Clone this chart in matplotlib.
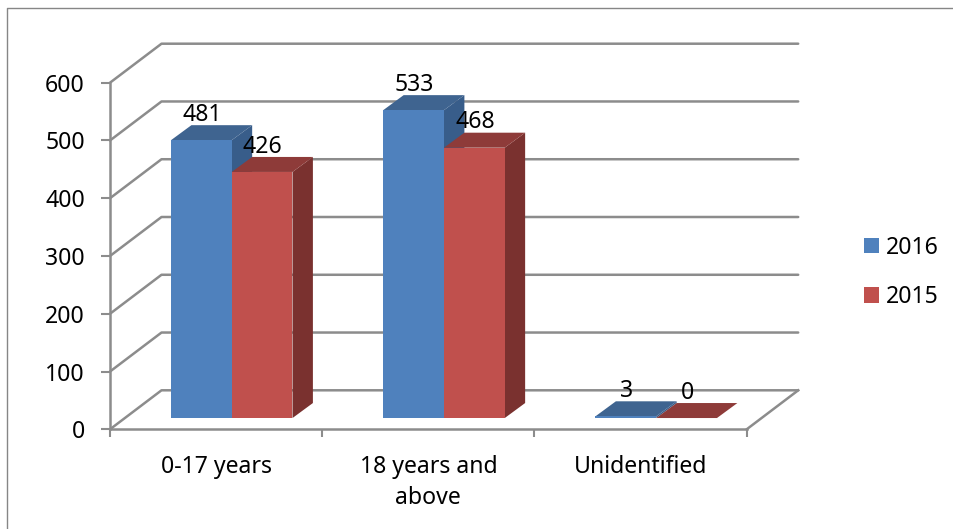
import matplotlib
matplotlib.use("Agg")
import matplotlib.pyplot as plt
from matplotlib.lines import Line2D
from matplotlib.patches import Patch, Polygon

categories = ["0-17 years", "18 years and\nabove", "Unidentified"]
series_names = ["2016", "2015"]
values_2016 = [481, 533, 3]
values_2015 = [426, 468, 0]
y_ticks = [0, 100, 200, 300, 400, 500, 600]

W, H = 954, 529
plt.rcParams["font.family"] = ["Noto Sans", "DejaVu Sans"]
FS = 16.6
GRID = "#8c8c8c"
fig = plt.figure(figsize=(W / 100, H / 100), dpi=100, facecolor="white")
ax = fig.add_axes([110 / W, 1 - 429.3 / H, 636.7 / W, 346.6 / H])
ax.set_xlim(0, 3)
ax.set_ylim(0, 600)
ax.patch.set_visible(False)

# outer frame (left and top edges only reach the picture edge)
fig.add_artist(Line2D([7.5 / W, 7.5 / W, 1], [0, 1 - 7.5 / H, 1 - 7.5 / H],
                      color="#868686", lw=1.0, transform=fig.transFigure))

# 3-D wall depth, in data units
WALL_DX, WALL_DY = 51.5 / 212.2, 39 / 0.5777
for t in y_ticks:
    ax.plot([0, WALL_DX, 3 + WALL_DX], [t, t + WALL_DY, t + WALL_DY],
            color=GRID, lw=1.8, clip_on=False, zorder=1, solid_capstyle="round")
ax.plot([3, 3 + WALL_DX], [0, WALL_DY], color=GRID, lw=1.8, clip_on=False, zorder=1)

for s in ("top", "right"):
    ax.spines[s].set_visible(False)
for s in ("left", "bottom"):
    ax.spines[s].set_color(GRID)
    ax.spines[s].set_linewidth(1.8)
    ax.spines[s].set_zorder(2)

ax.set_yticks(y_ticks)
ax.set_xticks([0, 1, 2, 3])
ax.set_xticks([0.5, 1.5, 2.5], minor=True)
ax.set_xticklabels([])
ax.set_xticklabels(categories, minor=True, fontsize=FS, linespacing=1.37, color="black")
ax.tick_params(axis="x", which="major", length=6, width=1.5, color=GRID)
ax.tick_params(axis="x", which="minor", length=0, pad=18.5)
ax.tick_params(axis="y", length=6.5, width=1.5, color=GRID, pad=11.5, labelsize=FS, labelcolor="black")

# bars
BAR_X0, BAR_W = 0.2875, 0.2862
BASE = 19.5
DX, DY = 20.4 / 212.2, 15 / 0.5777
colors = [("#4F81BD", "#3F6490", "#385D8A"), ("#C0504D", "#8E3B39", "#7A312F")]

for j, vals in enumerate([values_2016, values_2015]):
    front, top, side = colors[j]
    for i, v in enumerate(vals):
        x0 = i + BAR_X0 + j * BAR_W
        x1 = x0 + BAR_W
        y0, y1 = BASE, BASE + v
        z = 5 + j + 2 * i
        ax.add_patch(Polygon([(x1, y0), (x1 + DX, y0 + DY), (x1 + DX, y1 + DY), (x1, y1)],
                             fc=side, ec="none", clip_on=False, zorder=z))
        ax.add_patch(Polygon([(x0, y1), (x0 + DX, y1 + DY), (x1 + DX, y1 + DY), (x1, y1)],
                             fc=top, ec="none", clip_on=False, zorder=z))
        ax.add_patch(Polygon([(x0, y0), (x1, y0), (x1, y1), (x0, y1)],
                             fc=front, ec="none", clip_on=False, zorder=z))
        ax.text((x0 + x1) / 2 + 0.003, y1 + 44, str(v), ha="center", va="center", fontsize=FS,
                color="black", zorder=20, clip_on=False)

handles = [Patch(fc=colors[k][0], ec="none") for k in range(2)]
ax.legend(handles, series_names, loc="center left", bbox_to_anchor=(864 / W, 1 - 272.5 / H),
          bbox_transform=fig.transFigure, frameon=False, fontsize=FS, borderpad=0,
          borderaxespad=0, handlelength=0.65, handleheight=0.65, handletextpad=0.32,
          labelspacing=1.1)

fig.savefig("out.png", dpi=100, facecolor="white")
